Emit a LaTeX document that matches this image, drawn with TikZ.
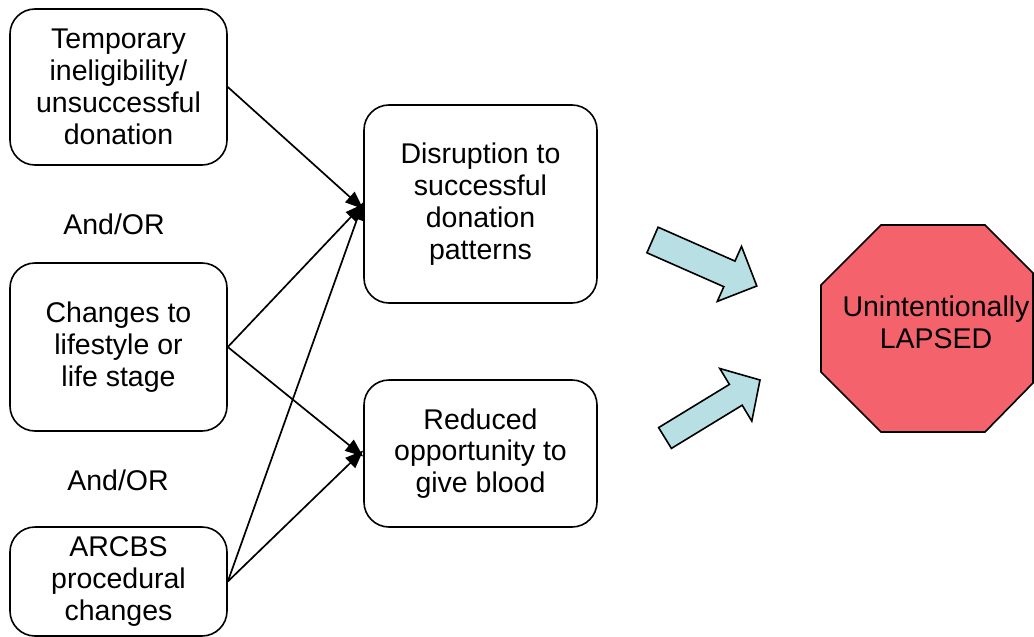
\documentclass[tikz,border=0pt]{standalone}
\usepackage{fontspec}
\setmainfont{Liberation Sans}
\usetikzlibrary{arrows.meta}

\tikzset{
  box/.style={draw,line width=1.6pt,rounded corners=25pt,align=center,inner sep=2pt,
    font=\fontsize{28.5}{31.8}\selectfont},
  lbl/.style={align=center,font=\fontsize{28.5}{31.8}\selectfont},
  link/.style={line width=1.7pt,-{Triangle[length=18pt,width=14pt]}},
  fat/.style={draw,line width=1.6pt,fill=arrowfill,line join=miter}
}
\definecolor{arrowfill}{RGB}{184,224,228}
\definecolor{stopred}{RGB}{244,98,108}

\begin{document}
\begin{tikzpicture}[x=1pt,y=-1pt]
      \useasboundingbox (0,0) rectangle (1034,637);
      \node[box,minimum width=217pt,minimum height=156pt] (temp) at (118.5,87) {Temporary\\ineligibility/\\unsuccessful\\donation};
      \node[box,minimum width=217pt,minimum height=168pt] (life) at (118.5,347) {Changes to\\lifestyle or\\life stage};
      \node[box,minimum width=217pt,minimum height=109pt] (proc) at (118.5,581.5) {ARCBS\\procedural\\changes};
      \node[lbl] (or1) at (114,224) {And/OR};
      \node[lbl] (or2) at (118,480) {And/OR};
      \node[box,minimum width=233pt,minimum height=198pt] (disr) at (480.5,204) {Disruption to\\successful\\donation\\patterns};
      \node[box,minimum width=233pt,minimum height=147pt] (redu) at (480.5,453.5) {Reduced\\opportunity to\\give blood};
      \draw[link] (temp.east) -- ([yshift=-5pt]disr.west);
      \draw[link] (life.east) -- (disr.west);
      \draw[link] (proc.east) -- ([yshift=2pt]disr.west);
      \draw[link] (life.east) -- ([yshift=-3pt]redu.west);
      \draw[link] (proc.east) -- ([yshift=3pt]redu.west);
      \draw[fat] (658.1,227.2) -- (735.0,261.1) -- (741.5,246.4) -- (756.8,286) -- (717.3,301.4) -- (723.8,286.7) -- (646.9,252.8) -- cycle;
      \draw[fat] (658.6,427.6) -- (729.4,384.4) -- (719.8,368.5) -- (760,380) -- (751.8,421.1) -- (742.2,405.2) -- (671.4,448.4) -- cycle;
      \draw[line width=1.6pt,fill=stopred] (881,225) -- (985,225) -- (1033,273) -- (1033,383) -- (985,432) -- (881,432) -- (821,372) -- (821,285) -- cycle;
      \node[lbl] (lapsed) at (936,322) {Unintentionally\\LAPSED};
\end{tikzpicture}
\end{document}
